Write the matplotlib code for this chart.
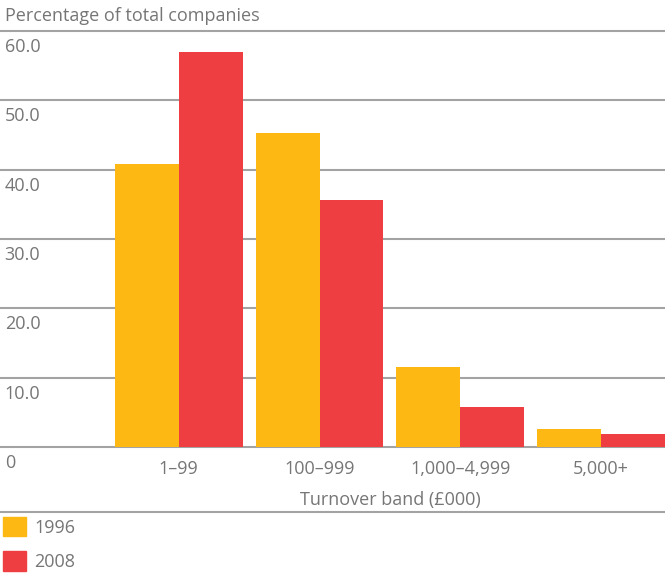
import matplotlib
matplotlib.use("Agg")
import matplotlib.pyplot as plt
import matplotlib.transforms as mtransforms
from matplotlib.lines import Line2D
from matplotlib.patches import Patch
import numpy as np

categories = ["1–99", "100–999", "1,000–4,999", "5,000+"]
series_names = ["1996", "2008"]
values_1996 = [40.8, 45.3, 11.6, 2.6]
values_2008 = [56.9, 35.6, 5.8, 1.9]
yticks = [0, 10, 20, 30, 40, 50, 60]
ytick_labels = ["0", "10.0", "20.0", "30.0", "40.0", "50.0", "60.0"]

c1996 = "#FDB813"
c2008 = "#EF3E42"
grey_text = "#767676"
grid_col = "#a3a3a3"

plt.rcParams['font.family'] = ['Open Sans', 'DejaVu Sans']

W, H = 665, 575
fig = plt.figure(figsize=(W / 100, H / 100), dpi=100)
ax_bottom = (H - 447) / H
ax_top = (H - 31) / H
ax = fig.add_axes([0, ax_bottom, 1, ax_top - ax_bottom])

x = np.arange(len(categories))
bw = 0.454
ax.bar(x - bw / 2, values_1996, width=bw, color=c1996, zorder=3, label=series_names[0])
ax.bar(x + bw / 2, values_2008, width=bw, color=c2008, zorder=3, label=series_names[1])

ax.set_xlim(-1.27, 3.454)
ax.set_ylim(0, 60)

for s in ax.spines.values():
    s.set_visible(False)

# gridlines
for v in yticks:
    ax.axhline(v, color=grid_col, lw=1.5, zorder=1, clip_on=False)

ax.set_yticks([])
# y labels below gridlines
trans = mtransforms.blended_transform_factory(ax.transAxes, ax.transData)
for v, lab in zip(yticks, ytick_labels):
    ax.text(0.007, v, lab, transform=trans + mtransforms.ScaledTranslation(0, -5 / 72, fig.dpi_scale_trans),
            ha='left', va='top', fontsize=13, color=grey_text)

ax.set_xticks(x)
ax.set_xticklabels(categories, fontsize=13, color=grey_text)
ax.tick_params(axis='x', length=0, pad=9)

ax.set_xlabel("Turnover band (£000)", fontsize=13, color=grey_text, labelpad=10)
ax.xaxis.set_label_coords((1.5 + 1.27) / 4.724, -0.105)

fig.text(5 / W, 1 - 16 / H, "Percentage of total companies", fontsize=13, color=grey_text,
         ha='left', va='center')

# separator line above legend
fig.add_artist(Line2D([0, 1], [1 - 512 / H, 1 - 512 / H], transform=fig.transFigure,
                      color=grid_col, lw=1.5))

handles = [Patch(color=c1996, label="1996"), Patch(color=c2008, label="2008")]
leg = fig.legend(handles=handles, loc='upper left', bbox_to_anchor=(0.0, 1 - 514 / H),
                 frameon=False, fontsize=13, handlelength=1.3, handleheight=1.3,
                 handletextpad=0.45, labelspacing=0.8, borderaxespad=0, borderpad=0.15)
for t in leg.get_texts():
    t.set_color(grey_text)

fig.savefig("out.png", dpi=100)
